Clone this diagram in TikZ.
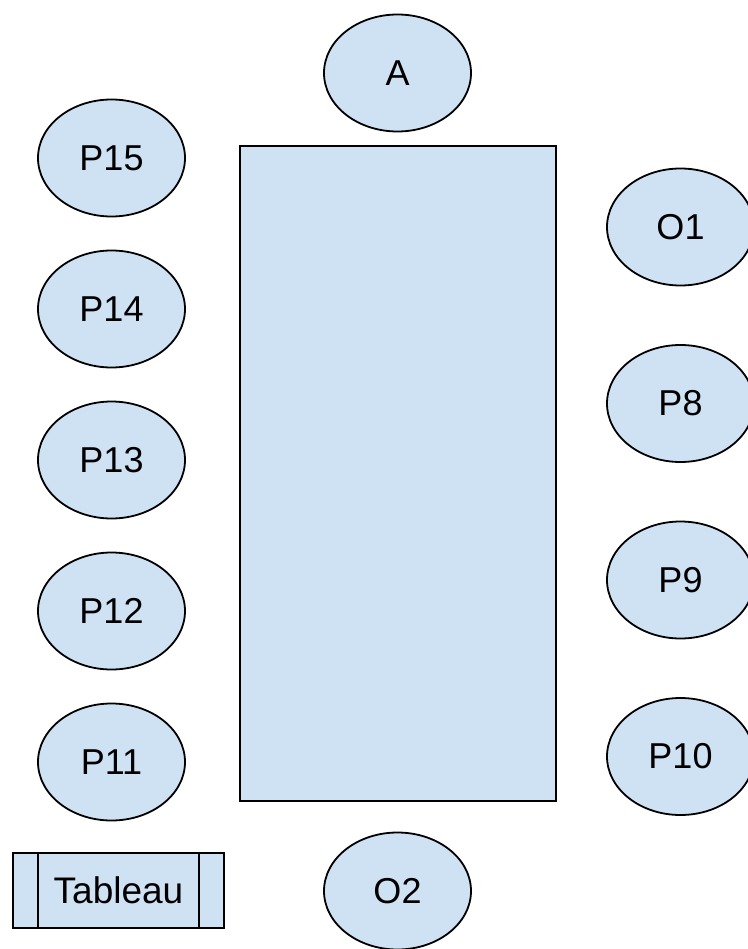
\documentclass[tikz,border=0pt]{standalone}
\usepackage{fontspec}
\setmainfont{Liberation Sans}
\usetikzlibrary{shapes.geometric}
\definecolor{seatblue}{HTML}{CFE2F3}
\begin{document}
\begin{tikzpicture}[x=1pt,y=-1pt,
  seat/.style={ellipse,draw=black,line width=1.8pt,fill=seatblue,minimum width=147pt,minimum height=117pt,inner sep=0pt,font=\fontsize{36}{40}\selectfont},
  tablebox/.style={draw=black,line width=1.8pt,fill=seatblue}]
\useasboundingbox (0,0) rectangle (747,949);
\node[tablebox,minimum width=316pt,minimum height=655pt,inner sep=0pt] (table) at (398,473.5) {};
\node[seat] (A) at (397.5,73) {A};
\node[seat] (O2) at (397.5,891) {O2};
\node[seat] (P15) at (111.5,158) {P15};
\node[seat] (P14) at (111.5,309) {P14};
\node[seat] (P13) at (111.5,460) {P13};
\node[seat] (P12) at (111.5,611) {P12};
\node[seat] (P11) at (111.5,762) {P11};
\node[seat] (O1) at (680.5,227) {O1};
\node[seat] (P8) at (680.5,403.5) {P8};
\node[seat] (P9) at (680.5,580) {P9};
\node[seat] (P10) at (680.5,756.5) {P10};
\node[tablebox,minimum width=211pt,minimum height=75pt,inner sep=0pt,font=\fontsize{37}{40}\selectfont] (tab) at (118.5,890.5) {Tableau};
\draw[line width=1.8pt] ([xshift=26pt]tab.north west) -- ([xshift=26pt]tab.south west);
\draw[line width=1.8pt] ([xshift=-26pt]tab.north east) -- ([xshift=-26pt]tab.south east);
\end{tikzpicture}
\end{document}
